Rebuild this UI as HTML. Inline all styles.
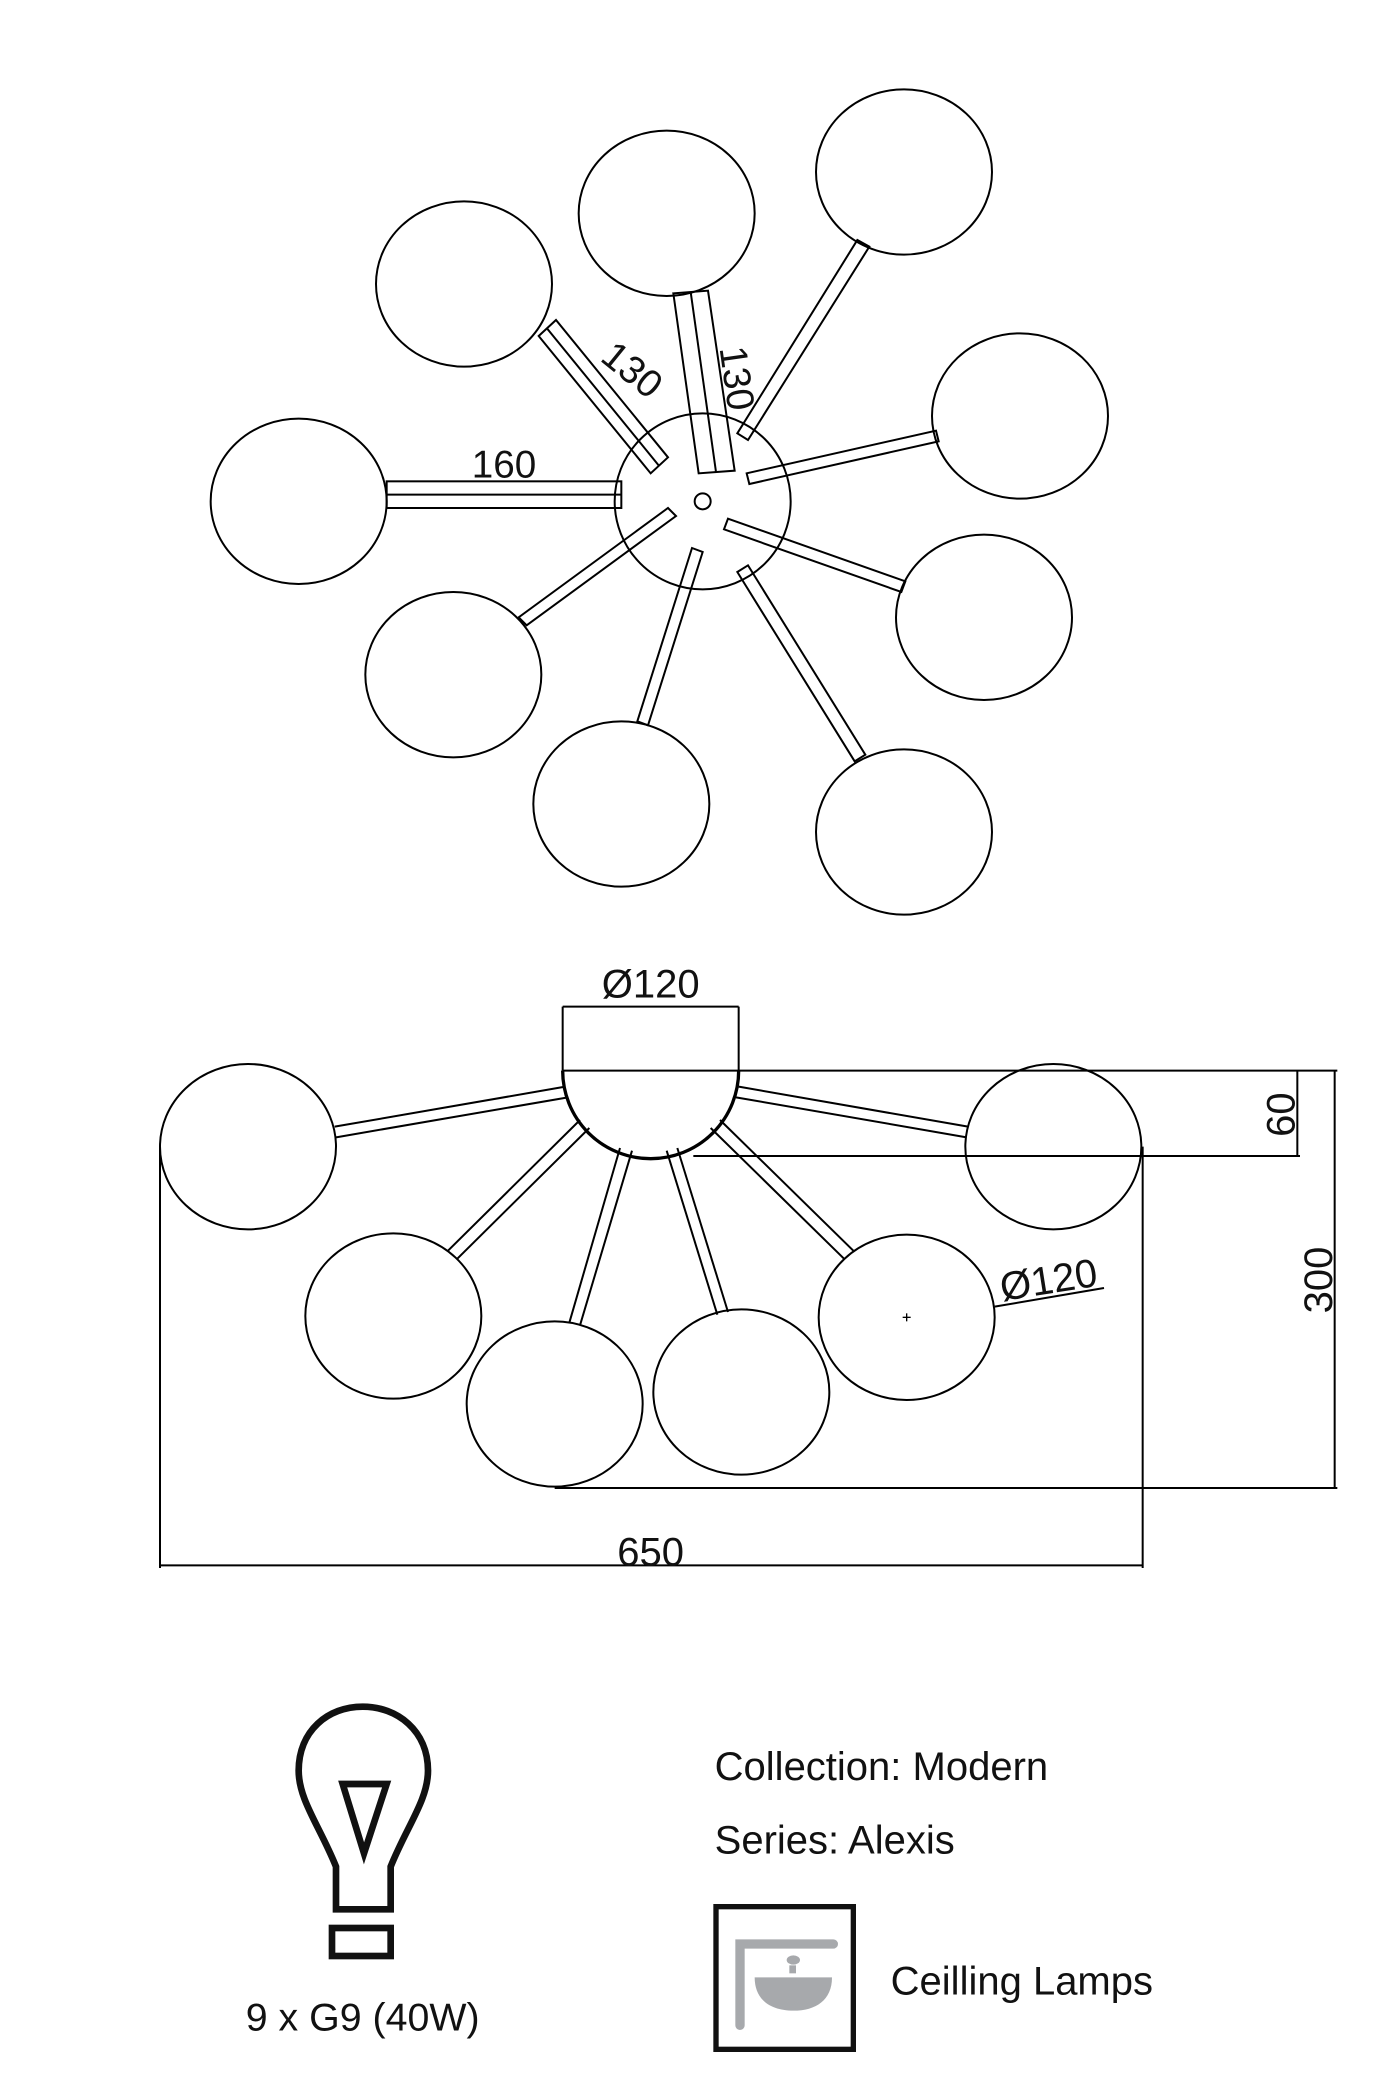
<!DOCTYPE html>
<html><head><meta charset="utf-8"><style>
html,body{margin:0;padding:0;background:#fff;}
svg{display:block;}
text{font-family:"Liberation Sans",sans-serif;fill:#111;}
</style></head><body>
<svg width="1400" height="2100" viewBox="0 0 1050 1575" xmlns="http://www.w3.org/2000/svg">
<g fill="none" stroke="#000" stroke-width="1.5">
<circle cx="527" cy="376" r="66"/>
<circle cx="527" cy="376" r="6"/>
<ellipse cx="348" cy="213" rx="66" ry="62"/>
<ellipse cx="500" cy="160" rx="66" ry="62"/>
<ellipse cx="678" cy="129" rx="66" ry="62"/>
<ellipse cx="765" cy="312" rx="66" ry="62"/>
<ellipse cx="738" cy="463" rx="66" ry="62"/>
<ellipse cx="678" cy="624" rx="66" ry="62"/>
<ellipse cx="466" cy="603" rx="66" ry="62"/>
<ellipse cx="340" cy="506" rx="66" ry="62"/>
<ellipse cx="224" cy="376" rx="66" ry="62"/>
<rect x="290" y="361" width="176" height="20"/>
<line x1="290" y1="371" x2="466" y2="371"/>
<polygon points="404,252 417,240 501,343 488,355"/>
<line x1="410" y1="246" x2="494" y2="349"/>
<polygon points="505,220 531,218 551,353 524,355"/>
<line x1="518" y1="219" x2="537" y2="354"/>
<polygon points="553,325 643,180 652,185 561,330"/>
<polygon points="560,355 702,323 704,331 562,363"/>
<polygon points="546,389 679,436 676,444 543,397"/>
<polygon points="553,429 561,424 649,566 641,571"/>
<polygon points="519,411 527,414 486,544 478,541"/>
<polygon points="501,381 507,387 395,469 389,463"/>
</g>
<text x="378" y="358" font-size="29" text-anchor="middle">160</text>
<text transform="translate(468,285) rotate(39)" font-size="29" text-anchor="middle">130</text>
<text transform="translate(543,285) rotate(82)" font-size="29" text-anchor="middle">130</text>

<g fill="none" stroke="#000" stroke-width="1.5">
<path d="M422,803 A66,66 0 0 0 554,803" stroke-width="2.5"/>
<line x1="422" y1="803" x2="1003" y2="803"/>
<ellipse cx="186" cy="860" rx="66" ry="62"/>
<ellipse cx="790" cy="860" rx="66" ry="62"/>
<ellipse cx="295" cy="987" rx="66" ry="62"/>
<ellipse cx="416" cy="1053" rx="66" ry="62"/>
<ellipse cx="556" cy="1044" rx="66" ry="62"/>
<ellipse cx="680" cy="988" rx="66" ry="62"/>
<line x1="251" y1="845" x2="424" y2="815"/>
<line x1="252" y1="853" x2="426" y2="823"/>
<line x1="554" y1="815" x2="726" y2="845"/>
<line x1="552" y1="823" x2="725" y2="853"/>
<line x1="336" y1="938" x2="435" y2="840"/>
<line x1="343" y1="944" x2="442" y2="846"/>
<line x1="427" y1="992" x2="465" y2="861"/>
<line x1="435" y1="994" x2="474" y2="863"/>
<line x1="538" y1="986" x2="500" y2="863"/>
<line x1="546" y1="984" x2="508" y2="861"/>
<line x1="633" y1="944" x2="533" y2="846"/>
<line x1="640" y1="938" x2="540" y2="840"/>
<line x1="422" y1="755" x2="422" y2="803"/>
<line x1="554" y1="755" x2="554" y2="803"/>
<line x1="422" y1="755" x2="554" y2="755"/>
<line x1="973" y1="803" x2="973" y2="867"/>
<line x1="520" y1="867" x2="975" y2="867"/>
<line x1="1001" y1="803" x2="1001" y2="1116"/>
<line x1="416" y1="1116" x2="1003" y2="1116"/>
<line x1="120" y1="860" x2="120" y2="1176"/>
<line x1="857" y1="860" x2="857" y2="1176"/>
<line x1="120" y1="1174" x2="857" y2="1174"/>
<line x1="746" y1="980" x2="828" y2="966"/>
<line x1="677" y1="988" x2="683" y2="988" stroke-width="1"/>
<line x1="680" y1="985" x2="680" y2="991" stroke-width="1"/>
</g>
<text x="488" y="748" font-size="30" text-anchor="middle">Ø120</text>
<text transform="translate(971,836) rotate(-90)" font-size="30" text-anchor="middle">60</text>
<text transform="translate(999,960) rotate(-90)" font-size="30" text-anchor="middle">300</text>
<text x="488" y="1174" font-size="30" text-anchor="middle">650</text>
<text transform="translate(788,970) rotate(-9)" font-size="30" text-anchor="middle">Ø120</text>

<g fill="none" stroke="#111" stroke-width="5">
<path d="M252,1432 L252,1400 C240,1370 224,1350 224,1328 C224,1298 246,1280 272,1280 C298,1280 321,1298 321,1328 C321,1350 305,1370 293,1400 L293,1432 Z"/>
<polygon points="257,1338 290,1338 273,1390"/>
<rect x="249" y="1446" width="44" height="21"/>
</g>
<text x="272" y="1523" font-size="29.5" text-anchor="middle">9 x G9 (40W)</text>
<text x="536" y="1335" font-size="30">Collection: Modern</text>
<text x="536" y="1390" font-size="30">Series: Alexis</text>
<rect x="537" y="1430" width="103" height="107" fill="none" stroke="#111" stroke-width="4"/>
<g fill="#a7a9ac" stroke="none">
<path d="M555,1519 L555,1458 L625,1458" fill="none" stroke="#a7a9ac" stroke-width="7" stroke-linecap="round"/>
<ellipse cx="595" cy="1470" rx="5" ry="3.5"/>
<rect x="592" y="1474" width="5" height="6"/>
<path d="M566,1483 L624,1483 C624,1500 612,1508 595,1508 C578,1508 566,1500 566,1483 Z"/>
</g>
<text x="668" y="1496" font-size="30">Ceilling Lamps</text>
</svg>
</body></html>
